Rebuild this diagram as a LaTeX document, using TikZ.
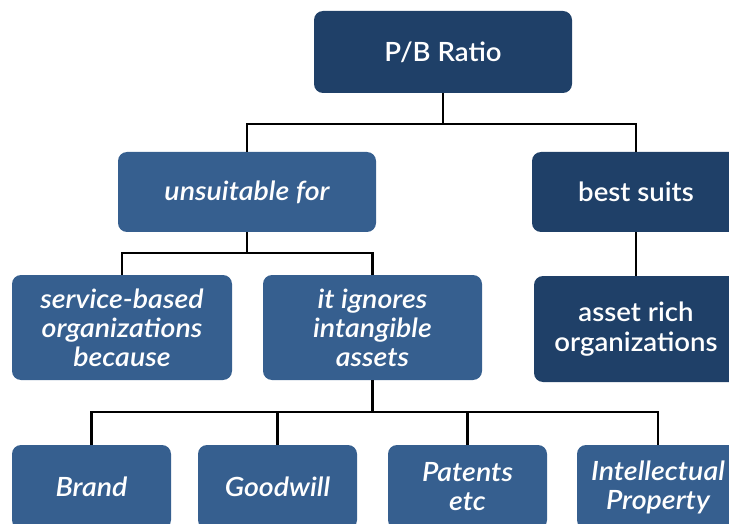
\documentclass[tikz,border=0pt]{standalone}
\usepackage{fontspec}
\setmainfont{Lato}[UprightFont={* Semibold}, ItalicFont={* Semibold Italic}, UprightFeatures={FakeStretch=1.04}, ItalicFeatures={FakeStretch=1.08}]
\definecolor{darkb}{HTML}{1F4068}
\definecolor{midb}{HTML}{365F8F}
\tikzset{
  box/.style={rounded corners=9pt, text=white, align=center, inner sep=0pt,
    font=\fontsize{26.5}{30}\selectfont},
  darkbox/.style={box, fill=darkb},
  midbox/.style={box, fill=midb, font=\fontsize{26.5}{29}\selectfont\itshape},
  conn/.style={draw=black, line width=2.2pt}
}
\begin{document}
\begin{tikzpicture}[x=1pt,y=-1pt]
\useasboundingbox (0,0) rectangle (729,524);
\node[darkbox, minimum width=258pt, minimum height=82pt] (pb) at (443,52) {P/B Ratio};
\node[midbox, minimum width=258pt, minimum height=80pt] (uns) at (247,192) {unsuitable for};
\node[darkbox, minimum width=208pt, minimum height=80pt] (best) at (636,192) {best suits};
\node[midbox, minimum width=220pt, minimum height=105pt] (svc) at (122,327.5) {service-based\\organizations\\because};
\node[midbox, minimum width=219pt, minimum height=105pt] (ign) at (372.5,327.5) {it ignores\\intangible\\assets};
\node[darkbox, minimum width=204pt, minimum height=106pt] (asset) at (636,329) {asset rich\\organizations};
\node[midbox, minimum width=159pt, minimum height=84pt] (brand) at (91.5,487) {Brand};
\node[midbox, minimum width=159pt, minimum height=84pt] (good) at (277.5,487) {Goodwill};
\node[midbox, minimum width=159pt, minimum height=84pt] (pat) at (467.5,487) {Patents\\etc};
\node[midbox, minimum width=162pt, minimum height=84pt] (ip) at (658,487) {Intellectual\\Property};
\draw[conn] (pb.south) -- ++(0,31) coordinate (j1);
\draw[conn] (uns.north) |- (j1) -| (best.north);
\draw[conn] (uns.south) -- ++(0,21) coordinate (j2);
\draw[conn] (svc.north) |- (j2) -| (ign.north);
\draw[conn] (best.south) -- (asset.north);
\draw[conn] (ign.south) -- ++(0,32) coordinate (j3);
\draw[conn] (brand.north) |- (j3) -| (ip.north);
\draw[conn] (good.north) -- (good.north |- j3);
\draw[conn] (pat.north) -- (pat.north |- j3);
\end{tikzpicture}
\end{document}
